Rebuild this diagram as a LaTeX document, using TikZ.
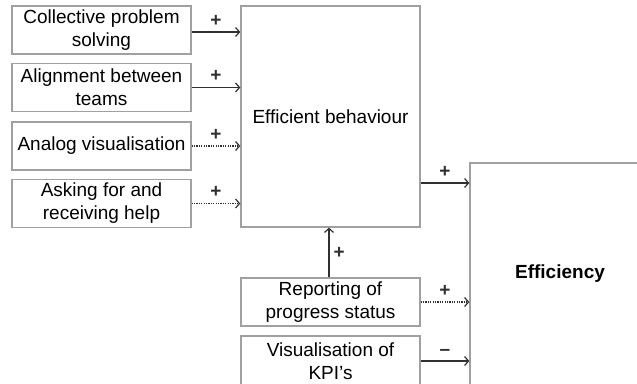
\documentclass[tikz,border=0pt]{standalone}
\usepackage{fontspec}
\setmainfont{Liberation Sans}
\usetikzlibrary{arrows.meta}
\definecolor{boxgray}{HTML}{A0A0A0}
\definecolor{arrowgray}{HTML}{303030}
\begin{document}
\begin{tikzpicture}[x=1pt,y=-1pt,
  box/.style={draw=boxgray,line width=1.3pt,fill=white,inner sep=0pt,align=center,
    font=\fontsize{19}{23}\selectfont},
  link/.style={draw=arrowgray,line width=1.2pt,-{Straight Barb[length=4pt,width=9pt]}},
  dotlink/.style={link,dash pattern=on 1.2pt off 1.2pt},
  sign/.style={font=\fontsize{19}{23}\selectfont\bfseries,inner sep=0pt,text=arrowgray}]
\path[use as bounding box,clip] (0,0) rectangle (637,383);

\node[box,minimum width=179pt,minimum height=48pt] (cps) at (101.5,30) {Collective problem\\solving};
\node[box,minimum width=179pt,minimum height=48pt] (abt) at (101.5,87.5) {Alignment between\\teams};
\node[box,minimum width=179pt,minimum height=48pt] (av) at (101.5,146) {Analog visualisation};
\node[box,minimum width=179pt,minimum height=48pt] (afh) at (101.5,203.5) {Asking for and\\receiving help};

\node[box,minimum width=179pt,minimum height=221pt] (eb) at (330.5,116.5) {Efficient behaviour};
\node[box,minimum width=179pt,minimum height=48pt] (rep) at (330.5,302) {Reporting of\\progress status};
\node[box,minimum width=179pt,minimum height=50pt] (kpi) at (330.5,361) {Visualisation of\\KPI’s};
\node[box,minimum width=180pt,minimum height=222pt,font=\fontsize{19}{23}\selectfont\bfseries] (eff) at (560,274) {Efficiency};

\draw[link] ([yshift=-2pt]cps.east) -- ([yshift=-2pt]eb.west |- cps.east) node[midway,above=5pt,sign] (s1) {+};
\draw[link] (abt.east) -- (eb.west |- abt.east) node[midway,above=5pt,sign] (s2) {+};
\draw[dotlink] (av.east) -- (eb.west |- av.east) node[midway,above=5pt,sign] (s3) {+};
\draw[dotlink] (afh.east) -- (eb.west |- afh.east) node[midway,above=5pt,sign] (s4) {+};

\draw[link] (eb.east |- 0,183) -- (eff.west |- 0,183) node[midway,above=5pt,sign] (s5) {+};
\draw[dotlink] (rep.east) -- (eff.west |- rep.east) node[midway,above=5pt,sign] (s6) {+};
\draw[link] (kpi.east) -- (eff.west |- kpi.east) node[midway,above=5pt,sign] (s7) {–};

\draw[link] ([xshift=-1.5pt]rep.north) -- ([xshift=-1.5pt]eb.south) node[midway,right=4pt,sign] (s8) {+};
\end{tikzpicture}
\end{document}
